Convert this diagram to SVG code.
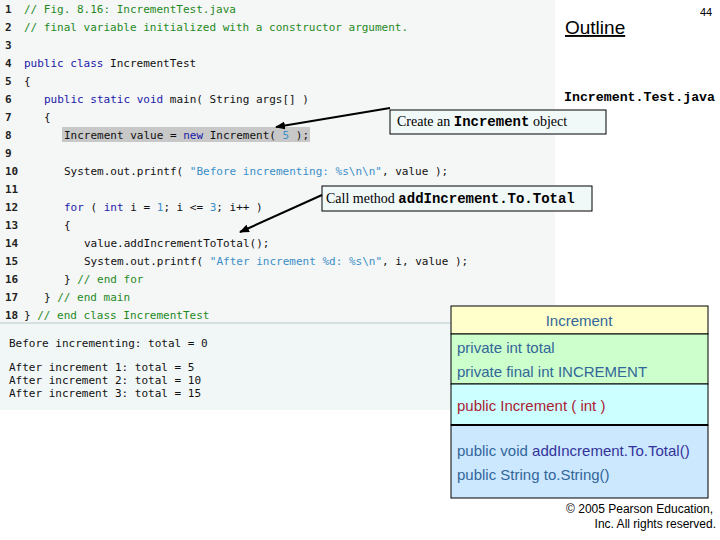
<svg xmlns="http://www.w3.org/2000/svg" width="720" height="540" viewBox="0 0 720 540">
<defs>
<marker id="ah" markerWidth="10" markerHeight="8" refX="9" refY="4" orient="auto" markerUnits="userSpaceOnUse"><path d="M0,0 L10,4 L0,8 z" fill="#000"/></marker>
<style>
.code{font-family:"DejaVu Sans Mono",monospace;font-size:11px;fill:#111}
.ln{font-family:"DejaVu Sans Mono",monospace;font-size:11px;fill:#222;font-weight:bold}
.cm{fill:#1f8a1f}.kw{fill:#1a1aa8}.st{fill:#3a8fc8}
.uml{font-family:"Liberation Sans",Arial,sans-serif;font-size:15px}
.call{font-family:"Liberation Serif",serif;font-size:14px;fill:#000}
.callm{font-family:"Liberation Mono",monospace;font-size:14px;font-weight:bold}
</style>
</defs>
<rect width="720" height="540" fill="#fff"/>
<rect x="0" y="0" width="555" height="323" fill="#f5f6f6"/>
<rect x="0" y="323" width="555" height="87" fill="#f1f7f7"/>
<line x1="0" y1="323" x2="555" y2="323" stroke="#b8cccc"/>
<rect x="62" y="127" width="248" height="15" fill="#c8c8c8"/>
<g id="code">
<text class="ln" x="5" y="13">1</text><text class="code cm" x="24" y="13">// Fig. 8.16: IncrementTest.java</text>
<text class="ln" x="5" y="31">2</text><text class="code cm" x="24" y="31">// final variable initialized with a constructor argument.</text>
<text class="ln" x="5" y="49">3</text>
<text class="ln" x="5" y="67">4</text><text class="code" x="24" y="67"><tspan class="kw">public class</tspan> IncrementTest</text>
<text class="ln" x="5" y="85">5</text><text class="code" x="24" y="85">{</text>
<text class="ln" x="5" y="103">6</text><text class="code" x="44" y="103"><tspan class="kw">public static void</tspan> main( String args[] )</text>
<text class="ln" x="5" y="121">7</text><text class="code" x="44" y="121">{</text>
<text class="ln" x="5" y="139">8</text><text class="code" x="64" y="139">Increment value = <tspan class="kw">new</tspan> Increment( <tspan class="st">5</tspan> );</text>
<text class="ln" x="5" y="157">9</text>
<text class="ln" x="5" y="175">10</text><text class="code" x="64" y="175">System.out.printf( <tspan class="st">"Before incrementing: %s\n\n"</tspan>, value );</text>
<text class="ln" x="5" y="193">11</text>
<text class="ln" x="5" y="211">12</text><text class="code" x="64" y="211"><tspan class="kw">for</tspan> ( <tspan class="kw">int</tspan> i = <tspan class="st">1</tspan>; i &lt;= <tspan class="st">3</tspan>; i++ )</text>
<text class="ln" x="5" y="229">13</text><text class="code" x="64" y="229">{</text>
<text class="ln" x="5" y="247">14</text><text class="code" x="84" y="247">value.addIncrementToTotal();</text>
<text class="ln" x="5" y="265">15</text><text class="code" x="84" y="265">System.out.printf( <tspan class="st">"After increment %d: %s\n"</tspan>, i, value );</text>
<text class="ln" x="5" y="283">16</text><text class="code" x="64" y="283">} <tspan class="cm">// end for</tspan></text>
<text class="ln" x="5" y="301">17</text><text class="code" x="44" y="301">} <tspan class="cm">// end main</tspan></text>
<text class="ln" x="5" y="319">18</text><text class="code" x="24" y="319">} <tspan class="cm">// end class IncrementTest</tspan></text>
</g>
<g id="output" class="code">
<text x="9" y="347">Before incrementing: total = 0</text>
<text x="9" y="371">After increment 1: total = 5</text>
<text x="9" y="384">After increment 2: total = 10</text>
<text x="9" y="397">After increment 3: total = 15</text>
</g>
<g id="header">
<text x="565" y="34" font-family="Liberation Sans,Arial,sans-serif" font-size="19" text-decoration="underline">Outline</text>
<text x="700" y="16" font-family="Liberation Sans,Arial,sans-serif" font-size="11">44</text>
<text x="564" y="101" font-family="Liberation Mono,monospace" font-size="13" font-weight="bold" textLength="151" lengthAdjust="spacingAndGlyphs">Increment.Test.java</text>
</g>
<g id="callout1">
<rect x="390" y="110" width="216" height="24" fill="#f0f8f8" stroke="#000"/>
<text class="call" x="397" y="126">Create an <tspan class="callm">Increment</tspan> object</text>
</g>
<g id="callout2">
<rect x="322" y="186" width="270" height="25" fill="#f0f8f8" stroke="#000"/>
<text class="call" x="326" y="203">Call method <tspan class="callm">addIncrement.To.Total</tspan></text>
</g>
<g id="connectors" stroke="#000" stroke-width="2">
<line x1="390" y1="108" x2="276" y2="127" marker-end="url(#ah)"/>
<line x1="322" y1="195" x2="240" y2="232" marker-end="url(#ah)"/>
</g>
<g id="uml" stroke="#000">
<rect x="451" y="306" width="257" height="28" fill="#ffffcc"/>
<rect x="451" y="334" width="257" height="50" fill="#ccffcc"/>
<rect x="451" y="384" width="257" height="41" fill="#ccffff"/>
<rect x="451" y="425" width="257" height="73" fill="#cce8ff"/>
<line x1="451" y1="425" x2="708" y2="425" stroke-width="2"/>
<g stroke="none" class="uml">
<text x="579" y="326" text-anchor="middle" fill="#336699">Increment</text>
<text x="457" y="353" fill="#336699">private int total</text>
<text x="457" y="377" fill="#336699">private final int INCREMENT</text>
<text x="457" y="411" fill="#aa2233">public Increment ( int )</text>
<text x="457" y="456" fill="#336699">public void <tspan fill="#333399">addIncrement.To.Total()</tspan></text>
<text x="457" y="480" fill="#336699">public String to.String()</text>
</g>
</g>
<g id="footer" font-family="Liberation Sans,Arial,sans-serif" font-size="12" text-anchor="end">
<text x="713" y="513">© 2005 Pearson Education,</text>
<text x="716" y="528">Inc.  All rights reserved.</text>
</g>
</svg>
